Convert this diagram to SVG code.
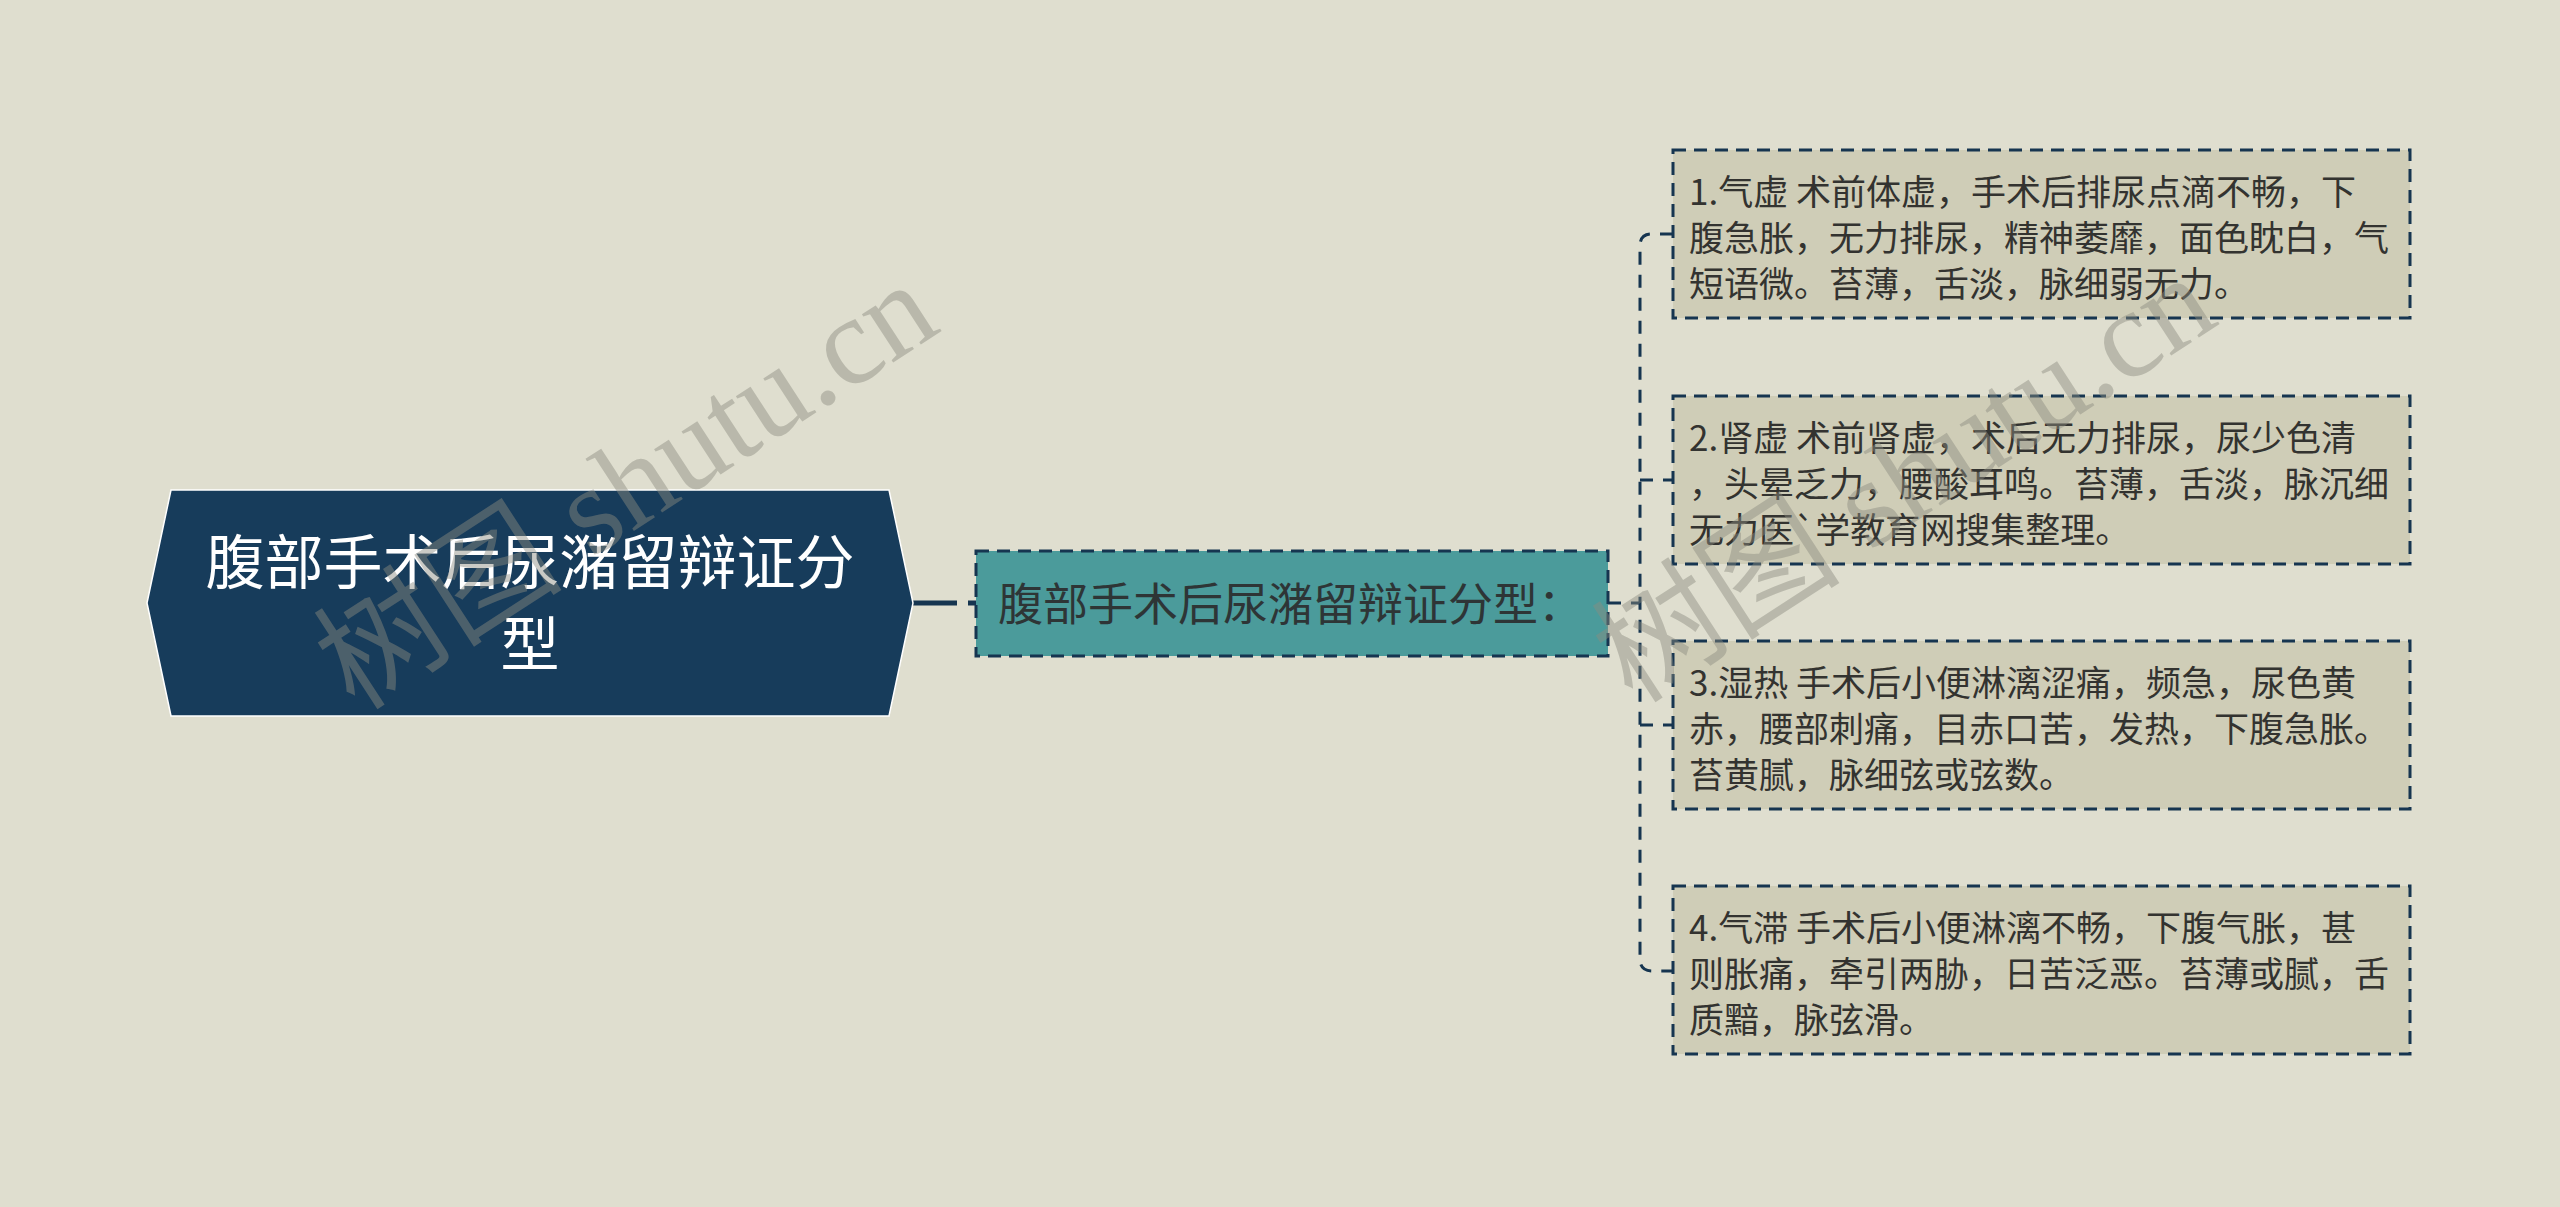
<svg xmlns="http://www.w3.org/2000/svg" width="2560" height="1207" viewBox="0 0 2560 1207">
<style>
text{font-family:"Noto Sans CJK SC","Noto Sans",sans-serif}
.root-t{fill:#ffffff;font-size:59px}
.mid-t{fill:#2e3536;font-size:45px}
.leaf-t{fill:#333330;font-size:35px}
.leaf{fill:#cfcdb7;stroke:#163550;stroke-width:3;stroke-dasharray:13 8}
.mid{fill:#4b9b9b;stroke:#163550;stroke-width:3;stroke-dasharray:13 8}
.conn{fill:none;stroke:#163550;stroke-width:3;stroke-dasharray:13 10}
.wm{font-family:"Liberation Serif","Noto Sans CJK SC",serif;font-size:125px;fill:#8c8c80;opacity:0.45}
</style>
<rect width="2560" height="1207" fill="#dfdecf"/>
<g id="connectors">
<path d="M913,603 H976" fill="none" stroke="#163550" stroke-width="5" stroke-dasharray="44 11"/>
<path class="conn" d="M1608,603 H1640"/>
<path class="conn" d="M1673,234 H1652 Q1640,234 1640,246 V959 Q1640,971 1652,971 H1673"/>
<path class="conn" d="M1640,480 H1673"/>
<path class="conn" d="M1640,725 H1673"/>
</g>
<g id="root">
<polygon points="147,603 171,490 889,490 913,603 889,716 171,716" fill="#173c5b" stroke="#ffffff" stroke-width="1.5"/>
<text class="root-t" x="530" y="584" text-anchor="middle">腹部手术后尿潴留辩证分</text>
<text class="root-t" x="530" y="666" text-anchor="middle">型</text>
</g>
<g id="mid">
<rect class="mid" x="976" y="551" width="632" height="105"/>
<text class="mid-t" x="998" y="621">腹部手术后尿潴留辩证分型：</text>
</g>
<g id="leaf1">
<rect class="leaf" x="1673" y="150" width="737" height="168"/>
<text class="leaf-t" x="1689" y="205">1.气虚 术前体虚，手术后排尿点滴不畅，下</text>
<text class="leaf-t" x="1689" y="251">腹急胀，无力排尿，精神萎靡，面色眈白，气</text>
<text class="leaf-t" x="1689" y="297">短语微。苔薄，舌淡，脉细弱无力。</text>
</g>
<g id="leaf2">
<rect class="leaf" x="1673" y="396" width="737" height="168"/>
<text class="leaf-t" x="1689" y="451">2.肾虚 术前肾虚，术后无力排尿，尿少色清</text>
<text class="leaf-t" x="1689" y="497">，头晕乏力，腰酸耳鸣。苔薄，舌淡，脉沉细</text>
<text class="leaf-t" x="1689" y="543">无力医`学教育网搜集整理。</text>
</g>
<g id="leaf3">
<rect class="leaf" x="1673" y="641" width="737" height="168"/>
<text class="leaf-t" x="1689" y="696">3.湿热 手术后小便淋漓涩痛，频急，尿色黄</text>
<text class="leaf-t" x="1689" y="742">赤，腰部刺痛，目赤口苦，发热，下腹急胀。</text>
<text class="leaf-t" x="1689" y="788">苔黄腻，脉细弦或弦数。</text>
</g>
<g id="leaf4">
<rect class="leaf" x="1673" y="886" width="737" height="168"/>
<text class="leaf-t" x="1689" y="941">4.气滞 手术后小便淋漓不畅，下腹气胀，甚</text>
<text class="leaf-t" x="1689" y="987">则胀痛，牵引两胁，日苦泛恶。苔薄或腻，舌</text>
<text class="leaf-t" x="1689" y="1033">质黯，脉弦滑。</text>
</g>
<g id="watermark">
<text class="wm" transform="translate(355,712) rotate(-33)">树图 shutu.cn</text>
<text class="wm" transform="translate(1633,705) rotate(-33)">树图 shutu.cn</text>
</g>
</svg>
